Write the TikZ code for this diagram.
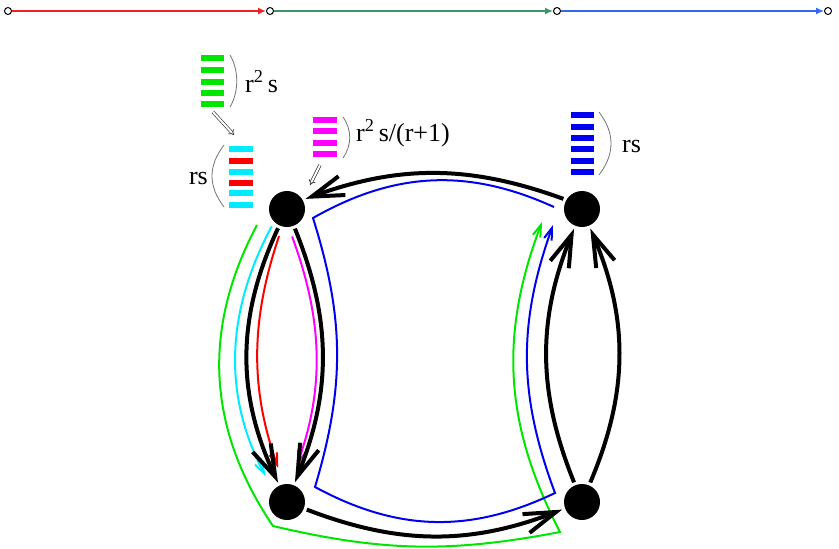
\documentclass[tikz,border=0pt]{standalone}
\usepackage{fontspec}
\setmainfont{Liberation Serif}
\usepackage{tikz}
\usepackage{xcolor}
\usetikzlibrary{arrows.meta}
\definecolor{stepred}{RGB}{235, 35, 35}
\definecolor{stepgreen}{RGB}{60, 150, 105}
\definecolor{stepblue}{RGB}{50, 105, 240}
\definecolor{routegreen}{RGB}{0, 230, 0}
\definecolor{routecyan}{RGB}{0, 235, 255}
\definecolor{routered}{RGB}{255, 0, 0}
\definecolor{routemagenta}{RGB}{255, 0, 255}
\definecolor{routeblue}{RGB}{0, 0, 240}
\tikzstyle{vertex} = [
    circle,
    fill=black,
    minimum size=36pt,
    inner sep=0pt
]
\tikzstyle{tick} = [
    circle,
    draw=black,
    fill=white,
    line width=1pt,
    minimum size=7pt,
    inner sep=0pt
]
\tikzstyle{edge} = [
    line width=4pt,
    -{Straight Barb[length=32pt,width=20pt]},
    shorten <=3pt,
    shorten >=3pt
]
\tikzstyle{route} = [
    line width=2pt,
    -{Straight Barb[length=12pt,width=8pt]}
]
\tikzstyle{timeline} = [
    line width=1.5pt,
    -{Latex[length=8pt,width=7pt]}
]
\tikzstyle{hint} = [
    draw=black!85,
    double,
    double distance=2pt,
    line width=0.6pt,
    -{Implies}
]
\tikzstyle{brace} = [
    draw=black!55,
    line width=0.8pt
]

\begin{document}
\begin{tikzpicture}[x=1pt, y=-1pt, font=\fontsize{26}{30}\selectfont]
    \useasboundingbox (0,0) rectangle (839,549);

    % timeline
    \node[tick] (t0) at (8,11) {};
    \node[tick] (t1) at (270,11) {};
    \node[tick] (t2) at (557,11) {};
    \node[tick] (t3) at (828,11) {};
    \draw[timeline, stepred] (t0) -- (t1);
    \draw[timeline, stepgreen] (t1) -- (t2);
    \draw[timeline, stepblue] (t2) -- (t3);

    % vertices
    \node[vertex] (nw) at (287,209) {};
    \node[vertex] (ne) at (582,209) {};
    \node[vertex] (sw) at (287,502) {};
    \node[vertex] (se) at (582,502) {};

    % colored routes
    \coordinate (g0) at (257,225);
    \coordinate (g1) at (273,526);
    \coordinate (g2) at (560,532);
    \coordinate (g3) at (542,222);
    \draw[route, routegreen] (g0) to[bend right=31] (g1) to[bend right=12] (g2) to[bend left=24] (g3);
    \coordinate (b0) at (554,207);
    \coordinate (b1) at (313,218);
    \coordinate (b2) at (315,487);
    \coordinate (b3) at (555,493);
    \coordinate (b4) at (553,225);
    \draw[route, routeblue] (b0) to[bend right=27] (b1) to[bend left=17] (b2) to[bend right=27] (b3) to[bend left=20] (b4);
    \draw[route, routecyan, shorten <=5pt, shorten >=16pt] (nw.225) to[bend right=28] (sw.140);
    \draw[route, routered, shorten <=10pt, shorten >=17pt] (nw.255) to[bend right=19] (sw.100);
    \draw[route, routemagenta, shorten <=10pt, shorten >=20pt] (nw.275) to[bend left=20] (sw.80);

    % black edges
    \draw[edge] (nw) to[bend right=25] (sw);
    \draw[edge] (nw) to[bend left=22] (sw);
    \draw[edge] (ne.150) to[bend right=20] (nw.30);
    \draw[edge] (sw) to[bend right=21] (se);
    \draw[edge] (se) to[bend left=22] (ne);
    \draw[edge] (se) to[bend right=23] (ne);

    % packet stacks
    \foreach \y in {58,70,82,93,104}
        \fill[routegreen] (201,\y-3) rectangle (224,\y+3);
    \foreach \y/\c in {149/routecyan,161/routered,172/routecyan,183/routered,193/routecyan,205/routecyan}
        \fill[\c] (229,\y-3) rectangle (253,\y+3);
    \foreach \y in {120,131,143,154}
        \fill[routemagenta] (313,\y-3) rectangle (337,\y+3);
    \foreach \y in {115,127,138,149,161,172}
        \fill[routeblue] (571,\y-3) rectangle (594,\y+3);

    % braces and labels
    \draw[brace] (230,55) .. controls (239,70) and (239,92) .. (230,107);
    \draw[brace] (224,145) .. controls (208,166) and (208,186) .. (224,207);
    \draw[brace] (343,117) .. controls (352,130) and (352,145) .. (343,158);
    \draw[brace] (599,112) .. controls (615,133) and (615,154) .. (599,175);
    \node[anchor=base west, inner sep=0pt] (lgreen) at (245,92) {r\textsuperscript{2}\,s};
    \node[anchor=base east, inner sep=0pt] (lcyan) at (208,184) {rs};
    \node[anchor=base west, inner sep=0pt] (lmagenta) at (356,141) {r\textsuperscript{2}\,s/(r+1)};
    \node[anchor=base west, inner sep=0pt] (lblue) at (622,152) {rs};

    % hints
    \coordinate (gh0) at (213,112);
    \coordinate (gh1) at (234,135);
    \coordinate (mh0) at (320,165);
    \coordinate (mh1) at (310,185);
    \draw[hint] (gh0) -- (gh1);
    \draw[hint] (mh0) -- (mh1);
\end{tikzpicture}
\end{document}
